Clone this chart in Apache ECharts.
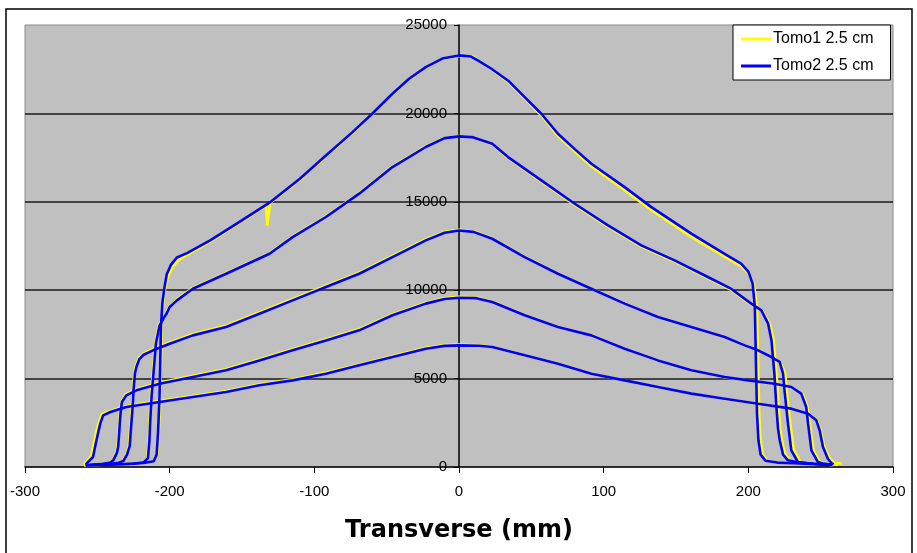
<!DOCTYPE html>
<html>
<head>
<meta charset="utf-8">
<title>Transverse profiles</title>
<script src="https://cdn.jsdelivr.net/npm/echarts@6/dist/echarts.min.js"></script>
<style>
  html, body { margin: 0; padding: 0; background: #ffffff; }
  #chart { width: 917px; height: 553px; }
</style>
</head>
<body>
<div id="chart"></div>
<script>
// Transverse dose profiles, [position (mm), signal] pairs, five depths per unit
const seriesNames = ['Tomo1 2.5 cm', 'Tomo2 2.5 cm'];
const xTicks = { min: -300, max: 300, step: 100 };
const yTicks = { min: 0, max: 25000, step: 5000 };

// Tomo1 profiles
const tomo1P1 = [[-259,110],[-245,130],[-230,170],[-218,230],[-211,330],[-208.5,700],[-207.5,2000],[-206.5,4000],[-206,6000],[-205.5,8000],[-204.5,9300],[-203,10150],[-201,10800],[-198,11300],[-194,11700],[-188,12000],[-172,12750],[-152,13800],[-135,14700],[-133.5,14850],[-132.5,13650],[-131.5,13600],[-130.5,14950],[-110,16250],[-92,17580],[-73.6,18900],[-60,19950],[-46,21080],[-34.5,21930],[-23,22600],[-11.5,23080],[0,23250],[10,23200],[22.4,22500],[34,21780],[45.4,20850],[56.9,19880],[68.4,18720],[80,17850],[91.5,17000],[114.5,15650],[133,14520],[160.6,13020],[183.6,11900],[195,11350],[200,10950],[204,10300],[206,9000],[206.5,7000],[207,5000],[207.5,3000],[208.5,1500],[210,700],[213,350],[220,250],[235,200],[250,150],[259,110]];
const tomo1P2 = [[-259,100],[-240,140],[-225,180],[-218,260],[-215.5,500],[-214.5,1500],[-214,2500],[-213,4000],[-211.5,5500],[-210,7000],[-207.5,8050],[-204,8500],[-202,8750],[-200,9100],[-195,9480],[-184,10130],[-161,10980],[-131,12100],[-115,13040],[-92,14180],[-69,15500],[-46,17000],[-23,18130],[-10,18620],[0,18720],[9,18680],[23,18260],[33.9,17480],[56.9,16150],[80,14820],[103,13600],[126,12470],[149,11620],[172,10680],[188,10020],[202,9180],[210,8800],[215,8050],[217.5,7160],[218.5,6220],[219.5,5280],[221,3390],[222,2200],[223.2,1510],[225.5,700],[229,377],[237,250],[247,180],[258,120]];
const tomo1P3 = [[-259,100],[-245,150],[-236,220],[-232.5,340],[-230,700],[-228.2,1200],[-227,2450],[-226,3500],[-225.5,4335],[-224.5,5300],[-223.5,5700],[-221.5,6150],[-218,6420],[-211.5,6680],[-200,7050],[-184,7520],[-161,8000],[-138,8750],[-115,9500],[-92,10250],[-69,11000],[-46,11940],[-23,12880],[-10,13300],[0,13420],[10,13330],[23,12940],[45.4,11900],[68.4,10950],[91.5,10100],[114.5,9250],[137.5,8490],[160.6,7920],[183.6,7340],[197.5,6870],[206.7,6580],[215.9,6200],[222.5,5900],[225.5,5280],[226.5,4335],[227.8,3400],[229,2450],[231.5,940],[236,283],[246,180],[258,120]];
const tomo1P4 = [[-259,100],[-248,160],[-241.5,250],[-239.5,377],[-237,800],[-236,1130],[-235.5,1800],[-235,2450],[-234.5,3000],[-233.5,3700],[-230.5,4100],[-223,4400],[-207,4780],[-184,5160],[-161,5540],[-138,6100],[-115,6670],[-92,7230],[-69,7800],[-46,8640],[-23,9290],[-10,9560],[0,9630],[12,9580],[23,9360],[45.4,8600],[68.4,7930],[91.5,7450],[114.5,6690],[137.5,6020],[160.6,5460],[183.6,5080],[200,4890],[218,4700],[229.7,4510],[237.5,4140],[241,3390],[242.5,2450],[245,940],[249.5,283],[254,190],[262,130]];
const tomo1P5 = [[-259.5,150],[-258.5,226],[-256.5,400],[-254.5,565],[-252,1510],[-250.5,2100],[-249,2500],[-247,2980],[-241,3170],[-230,3450],[-207,3740],[-184,4020],[-161,4300],[-138,4680],[-115,4960],[-92,5340],[-69,5800],[-46,6280],[-23,6740],[-10,6900],[0,6930],[14,6890],[23,6800],[45.4,6310],[68.4,5840],[91.5,5270],[114.5,4890],[137.5,4510],[160.6,4140],[183.6,3850],[206.7,3570],[229.7,3290],[241.3,3010],[247.5,2640],[250,2075],[252.5,1130],[256.5,470],[260,226],[264.5,200]];

// Tomo2 profiles
const tomo2P1 = [[-258,100],[-245,130],[-230,170],[-218,230],[-211,330],[-209,700],[-208,2000],[-207,4000],[-206.5,6000],[-206,8000],[-205,9300],[-203.5,10200],[-202,10900],[-199,11450],[-195,11850],[-188,12100],[-172,12820],[-152,13850],[-131,14950],[-110,16300],[-92,17620],[-73.6,18940],[-60,19980],[-46,21110],[-34.5,21960],[-23,22620],[-11.5,23100],[0,23280],[8,23220],[13,23000],[22.4,22525],[34,21850],[45.4,20920],[56.9,19980],[68.4,18850],[80,17980],[91.5,17150],[114.5,15830],[133,14700],[160.6,13200],[183.6,12060],[195,11500],[200,11050],[203,10370],[204.5,9050],[205,7000],[205.5,5000],[206,3000],[207,1500],[208.5,700],[212,350],[220,250],[235,200],[250,150],[258,110]];
const tomo2P2 = [[-258,100],[-240,140],[-225,180],[-218,260],[-215,500],[-214,1500],[-213.5,2500],[-212.5,4000],[-211,5500],[-209.5,7000],[-207,8000],[-204,8450],[-202,8700],[-200,9050],[-195,9425],[-184,10085],[-161,10930],[-131,12060],[-115,13000],[-92,14140],[-69,15460],[-46,16965],[-23,18100],[-10,18600],[0,18700],[9,18660],[23,18285],[33.9,17530],[56.9,16210],[80,14890],[103,13670],[126,12535],[149,11690],[172,10745],[188,10085],[202,9240],[209,8860],[213.7,8105],[216,7160],[217,6220],[218,5280],[219.4,3390],[220.5,2200],[221.7,1510],[224,700],[227.4,377],[235,250],[245,180],[256,120]];
const tomo2P3 = [[-258,100],[-245,150],[-236,220],[-232,340],[-229.5,700],[-227.6,1200],[-226.5,2450],[-225.5,3500],[-225,4335],[-224,5300],[-223,5655],[-221,6100],[-218,6350],[-211.5,6600],[-200,6975],[-184,7445],[-161,7920],[-138,8670],[-115,9425],[-92,10180],[-69,10930],[-46,11875],[-23,12820],[-10,13250],[0,13380],[10,13300],[23,12910],[45.4,11875],[68.4,10930],[91.5,10085],[114.5,9240],[137.5,8480],[160.6,7920],[183.6,7350],[197.5,6880],[206.7,6600],[215.9,6220],[221.7,5940],[224,5280],[225,4335],[226.2,3400],[227.4,2450],[229.7,940],[234.3,283],[245,180],[256,120]];
const tomo2P4 = [[-258,100],[-248,160],[-241,250],[-239,377],[-236.5,800],[-235.6,1130],[-235,1800],[-234.5,2450],[-234,3000],[-233,3675],[-230,4050],[-223,4335],[-207,4710],[-184,5090],[-161,5470],[-138,6030],[-115,6600],[-92,7160],[-69,7730],[-46,8580],[-23,9240],[-10,9500],[0,9575],[12,9550],[23,9330],[45.4,8580],[68.4,7920],[91.5,7445],[114.5,6690],[137.5,6030],[160.6,5470],[183.6,5090],[200,4900],[218,4710],[229.7,4525],[236.6,4150],[240,3390],[241.3,2450],[243.6,940],[248,283],[252,190],[258,120]];
const tomo2P5 = [[-258,150],[-257.5,226],[-255,400],[-253,565],[-250.6,1510],[-249,2100],[-248,2450],[-246,2920],[-241,3110],[-230,3390],[-207,3675],[-184,3960],[-161,4240],[-138,4620],[-115,4900],[-92,5280],[-69,5750],[-46,6220],[-23,6690],[-10,6850],[0,6880],[14,6860],[23,6786],[45.4,6315],[68.4,5845],[91.5,5280],[114.5,4900],[137.5,4525],[160.6,4150],[183.6,3865],[206.7,3580],[229.7,3300],[241.3,3016],[247,2640],[249.3,2075],[251.6,1130],[255,470],[257.4,226],[259,150]];

const tomo1Profiles = [tomo1P1, tomo1P2, tomo1P3, tomo1P4, tomo1P5];
const tomo2Profiles = [tomo2P1, tomo2P2, tomo2P3, tomo2P4, tomo2P5];
const unitColors = ['#FFFF00', '#0000FF'];

// plot box in pixels; the value axis sits on x = 0, i.e. mid-width
const plot = { left: 25, right: 24, top: 25, bottom: 86 };
const chartWidth = 917;
const yAxisShift = -((chartWidth - plot.left - plot.right) / 2);

function profileSeries(name, color, data) {
  return {
    name: name,
    type: 'line',
    data: data,
    symbol: 'none',
    showSymbol: false,
    smooth: false,
    animation: false,
    lineStyle: { color: color, width: 2.6 },
    itemStyle: { color: color },
    emphasis: { disabled: true }
  };
}

const series = [];
tomo1Profiles.forEach(d => series.push(profileSeries(seriesNames[0], unitColors[0], d)));
tomo2Profiles.forEach(d => series.push(profileSeries(seriesNames[1], unitColors[1], d)));

const chart = echarts.init(document.getElementById('chart'), null, { renderer: 'canvas' });
chart.setOption({
  animation: false,
  backgroundColor: '#ffffff',
  textStyle: { fontFamily: 'Liberation Sans, Arial, sans-serif' },
  grid: {
    left: plot.left, right: plot.right, top: plot.top, bottom: plot.bottom,
    containLabel: false,
    outerBoundsMode: 'none',
    show: true,
    backgroundColor: '#C0C0C0',
    borderColor: '#8a8a8a',
    borderWidth: 1
  },
  legend: {
    data: seriesNames,
    orient: 'vertical',
    left: 733,
    top: 25,
    backgroundColor: '#ffffff',
    borderColor: '#000000',
    borderWidth: 1,
    padding: [6, 17, 6, 8],
    itemGap: 11,
    itemWidth: 30,
    itemHeight: 3,
    icon: 'rect',
    textStyle: { color: '#000000', fontSize: 16, fontFamily: 'Liberation Sans, Arial, sans-serif', padding: [0, 0, 0, -3] }
  },
  xAxis: {
    type: 'value',
    min: xTicks.min,
    max: xTicks.max,
    interval: xTicks.step,
    name: 'Transverse (mm)',
    nameLocation: 'middle',
    nameGap: 52,
    nameTextStyle: { color: '#000000', fontSize: 24, fontWeight: 'bold', fontFamily: 'DejaVu Sans, sans-serif' },
    axisLine: { show: true, onZero: false, lineStyle: { color: '#000000', width: 1.5 } },
    axisTick: { show: true, inside: false, length: 6, lineStyle: { color: '#000000', width: 1 } },
    axisLabel: { color: '#000000', fontSize: 15, margin: 17, formatter: v => String(v) },
    splitLine: { show: false }
  },
  yAxis: {
    type: 'value',
    position: 'left',
    offset: yAxisShift,
    min: yTicks.min,
    max: yTicks.max,
    interval: yTicks.step,
    axisLine: { show: true, onZero: false, lineStyle: { color: '#000000', width: 1.5 } },
    axisTick: { show: true, inside: false, length: 5, lineStyle: { color: '#000000', width: 1 } },
    axisLabel: { color: '#000000', fontSize: 15, margin: 12, formatter: v => String(v) },
    splitLine: { show: true, showMinLine: false, showMaxLine: false, lineStyle: { color: '#1a1a1a', width: 1.5 } }
  },
  graphic: [
    {
      type: 'rect',
      z: 100,
      silent: true,
      shape: { x: 6, y: 9, width: 906, height: 560 },
      style: { fill: 'none', stroke: '#000000', lineWidth: 1.5 }
    }
  ],
  series: series
});
</script>
</body>
</html>
